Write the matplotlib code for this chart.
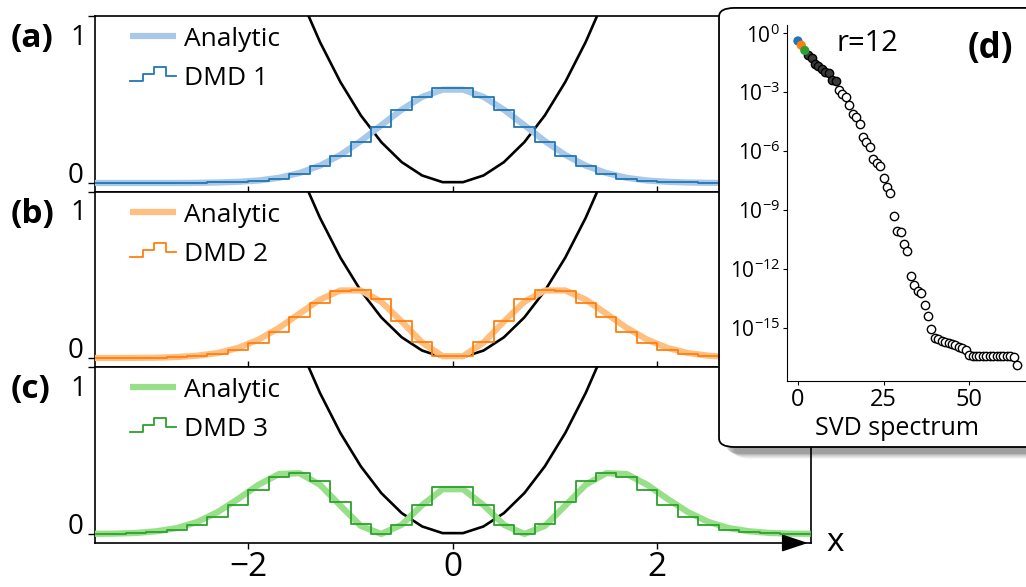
import numpy as np
import matplotlib
matplotlib.use('Agg')
import matplotlib.pyplot as plt
from matplotlib.lines import Line2D
from matplotlib.legend_handler import HandlerBase
from matplotlib.patches import FancyBboxPatch

plt.rcParams['font.family'] = ['Open Sans', 'DejaVu Sans']
plt.rcParams['mathtext.fontset'] = 'custom'
plt.rcParams['mathtext.rm'] = 'Open Sans'
plt.rcParams['axes.unicode_minus'] = True

# grid of sample positions
x = [-3.5, -3.3, -3.1, -2.9, -2.7, -2.5, -2.3, -2.1, -1.9, -1.7, -1.5, -1.3,
     -1.1, -0.9, -0.7, -0.5, -0.3, -0.1, 0.1, 0.3, 0.5, 0.7, 0.9, 1.1,
     1.3, 1.5, 1.7, 1.9, 2.1, 2.3, 2.5, 2.7, 2.9, 3.1, 3.3, 3.5]

# harmonic potential
potential = [6.125, 5.445, 4.805, 4.205, 3.645, 3.125, 2.645, 2.205, 1.805, 1.445, 1.125, 0.845,
             0.605, 0.405, 0.245, 0.125, 0.045, 0.005, 0.005, 0.045, 0.125, 0.245, 0.405, 0.605,
             0.845, 1.125, 1.445, 1.805, 2.205, 2.645, 3.125, 3.645, 4.205, 4.805, 5.445, 6.125]

# analytic densities
analytic1 = [0.000, 0.000, 0.000, 0.000, 0.000, 0.001, 0.003, 0.007, 0.015, 0.031, 0.060, 0.104,
             0.168, 0.251, 0.346, 0.439, 0.516, 0.559, 0.559, 0.516, 0.439, 0.346, 0.251, 0.168,
             0.104, 0.060, 0.031, 0.015, 0.007, 0.003, 0.001, 0.000, 0.000, 0.000, 0.000, 0.000]
analytic2 = [0.000, 0.000, 0.001, 0.002, 0.006, 0.014, 0.030, 0.061, 0.111, 0.182, 0.268, 0.352,
             0.407, 0.407, 0.339, 0.220, 0.093, 0.011, 0.011, 0.093, 0.220, 0.339, 0.407, 0.407,
             0.352, 0.268, 0.182, 0.111, 0.061, 0.030, 0.014, 0.006, 0.002, 0.001, 0.000, 0.000]
analytic3 = [0.001, 0.002, 0.006, 0.016, 0.035, 0.072, 0.131, 0.210, 0.295, 0.359, 0.364, 0.295,
             0.170, 0.048, 0.000, 0.055, 0.173, 0.268, 0.268, 0.173, 0.055, 0.000, 0.048, 0.170,
             0.295, 0.364, 0.359, 0.295, 0.210, 0.131, 0.072, 0.035, 0.016, 0.006, 0.002, 0.001]

# DMD modes
dmd1 = [0.000, 0.000, 0.000, 0.000, 0.001, 0.002, 0.003, 0.006, 0.010, 0.026, 0.055, 0.099,
        0.163, 0.247, 0.337, 0.437, 0.517, 0.567, 0.567, 0.517, 0.437, 0.337, 0.247, 0.163,
        0.099, 0.055, 0.026, 0.010, 0.006, 0.003, 0.002, 0.001, 0.000, 0.000, 0.000, 0.000]
dmd2 = [0.000, 0.000, 0.001, 0.002, 0.005, 0.013, 0.026, 0.050, 0.092, 0.157, 0.247, 0.334,
        0.405, 0.412, 0.353, 0.226, 0.094, 0.012, 0.012, 0.094, 0.226, 0.353, 0.412, 0.405,
        0.334, 0.247, 0.157, 0.092, 0.050, 0.026, 0.013, 0.005, 0.002, 0.001, 0.000, 0.000]
dmd3 = [0.000, 0.001, 0.003, 0.009, 0.022, 0.054, 0.104, 0.174, 0.263, 0.342, 0.363, 0.319,
        0.193, 0.060, 0.000, 0.051, 0.174, 0.283, 0.283, 0.174, 0.051, 0.000, 0.060, 0.193,
        0.319, 0.363, 0.342, 0.263, 0.174, 0.104, 0.054, 0.022, 0.009, 0.003, 0.001, 0.000]

# singular values (log10)
svd_log = [-0.39, -0.61, -0.87, -1.12, -1.24, -1.54, -1.66, -1.80, -1.97, -2.02, -2.39, -2.43,
           -2.90, -3.07, -3.27, -3.66, -4.12, -4.26, -4.63, -5.28, -5.53, -5.79, -6.38, -6.63,
           -6.75, -7.39, -7.82, -8.16, -9.31, -10.06, -10.13, -10.74, -11.08, -12.35, -12.82, -13.13,
           -13.21, -13.84, -14.39, -15.06, -15.54, -15.59, -15.66, -15.71, -15.76, -15.83, -15.89, -15.96,
           -16.05, -16.13, -16.39, -16.44, -16.44, -16.44, -16.44, -16.44, -16.44, -16.44, -16.44, -16.44,
           -16.44, -16.44, -16.44, -16.50, -16.90]
rank = 12

panel_labels = ['(a)', '(b)', '(c)']
dmd_labels = ['DMD 1', 'DMD 2', 'DMD 3']
dark = ['#1f77b4', '#ff7f0e', '#2ca02c']
light = ['#a9c8e8', '#ffbf80', '#98df8a']


class StepHandler(HandlerBase):
    def create_artists(self, legend, orig_handle, xdescent, ydescent,
                       width, height, fontsize, trans):
        xs = np.array([0, 0.285, 0.285, 0.515, 0.515, 0.785, 0.785, 1.0]) * width - xdescent
        ys = np.array([0.2, 0.2, 0.6, 0.6, 0.98, 0.98, 0.5, 0.5]) * height - ydescent
        ln = Line2D(xs, ys, color=orig_handle.get_color(), lw=orig_handle.get_linewidth())
        ln.set_transform(trans)
        return [ln]


fig = plt.figure(figsize=(10.26, 5.87), dpi=100)

boxes = [[0.0926, 0.6729, 0.6975, 0.2998],
         [0.0926, 0.3748, 0.6975, 0.2981],
         [0.0926, 0.0750, 0.6975, 0.2998]]
analytic = [analytic1, analytic2, analytic3]
dmd = [dmd1, dmd2, dmd3]

for i in range(3):
    ax = fig.add_axes(boxes[i])
    ax.plot(x, potential, color='black', lw=1.9, zorder=2)
    a_line, = ax.plot(x, analytic[i], color=light[i], lw=4.5, zorder=3, solid_capstyle='butt')
    d_line, = ax.plot(x, dmd[i], color=dark[i], lw=1.3, drawstyle='steps-mid', zorder=4)
    ax.set_xlim(-3.5, 3.5)
    ax.set_ylim(-0.054, 1.0)
    ax.set_xticks([-2, 0, 2])
    ax.set_yticks([0, 1])
    ax.set_yticklabels(['0', ''], fontsize=20)
    ax.get_yticklabels()[0].set_va('baseline')
    ax.text(-0.012, 0.955, '1', transform=ax.get_yaxis_transform(), fontsize=20,
            ha='right', va='top')
    ax.tick_params(axis='y', direction='out', length=5, width=1, pad=3)
    if i < 2:
        ax.tick_params(axis='x', direction='in', length=4, width=1, labelbottom=False)
    else:
        ax.tick_params(axis='x', direction='out', length=4, width=1, labelsize=24, pad=2)
        ax.set_xticklabels(['\u22122', '0', '2'])
    for s in ax.spines.values():
        s.set_linewidth(1.2)
    ax.legend([a_line, d_line], ['Analytic', dmd_labels[i]],
              handler_map={d_line: StepHandler()},
              loc='upper left', bbox_to_anchor=(0.016, 1.075), frameon=False,
              fontsize=19, handlelength=1.75, handletextpad=0.3, labelspacing=0.55)
    fig.text(0.010, boxes[i][1] + boxes[i][3] - 0.038, panel_labels[i],
             fontsize=24, fontweight='bold', va='center', ha='left')
    if i == 2:
        ax.annotate('', xy=(1.0, 0), xycoords='axes fraction', xytext=(0.96, 0),
                    arrowprops=dict(arrowstyle='-|>,head_length=0.9,head_width=0.3',
                                    color='black', lw=1.2, mutation_scale=18))
        ax.text(1.022, 0.0, 'x', transform=ax.transAxes, fontsize=24, va='center', ha='left')

# inset box with shadow
for k, a in enumerate([0.05, 0.06, 0.08, 0.1, 0.14]):
    off = 0.002 * (5 - k)
    sh = FancyBboxPatch((0.706 + off, 0.2385 - 0.010 - off), 0.33, 0.748,
                        boxstyle='round,pad=0,rounding_size=0.015',
                        transform=fig.transFigure, facecolor='black', edgecolor='none',
                        alpha=a, zorder=5)
    fig.patches.append(sh)
box = FancyBboxPatch((0.7008, 0.2385), 0.33, 0.748,
                     boxstyle='round,pad=0,rounding_size=0.015',
                     transform=fig.transFigure, facecolor='white', edgecolor='black',
                     lw=1.3, zorder=6)
fig.patches.append(box)

axd = fig.add_axes([0.767, 0.351, 0.235, 0.606], zorder=10)
axd.set_facecolor('none')
idx = np.arange(len(svd_log))
vals = 10.0 ** np.array(svd_log)
axd.scatter(idx[rank:], vals[rank:], s=36, facecolors='white', edgecolors='black', linewidths=1.0, zorder=3)
axd.scatter(idx[3:rank], vals[3:rank], s=36, facecolors='#3a3a3a', edgecolors='black', linewidths=1.0, zorder=4)
axd.scatter(idx[:3], vals[:3], s=44, c=dark, edgecolors='none', zorder=5)
axd.set_yscale('log')
axd.set_xlim(-3.2, 67.2)
axd.set_ylim(1.95e-18, 2.57)
axd.set_yticks([1e0, 1e-3, 1e-6, 1e-9, 1e-12, 1e-15])
axd.minorticks_off()
axd.set_xticks([0, 25, 50])
axd.spines['top'].set_visible(False)
axd.spines['right'].set_visible(False)
axd.tick_params(axis='y', labelsize=15, length=3, pad=2)
axd.tick_params(axis='x', labelsize=17, length=3, pad=2)
axd.set_xlabel('SVD spectrum', fontsize=18)
axd.xaxis.set_label_coords(0.455, -0.098)
axd.text(0.205, 0.95, 'r=%d' % rank, transform=axd.transAxes, fontsize=21, va='center', ha='left')
fig.text(0.965, 0.916, '(d)', fontsize=25, fontweight='bold', va='center', ha='center', zorder=11)

fig.savefig('out.png', dpi=100)
